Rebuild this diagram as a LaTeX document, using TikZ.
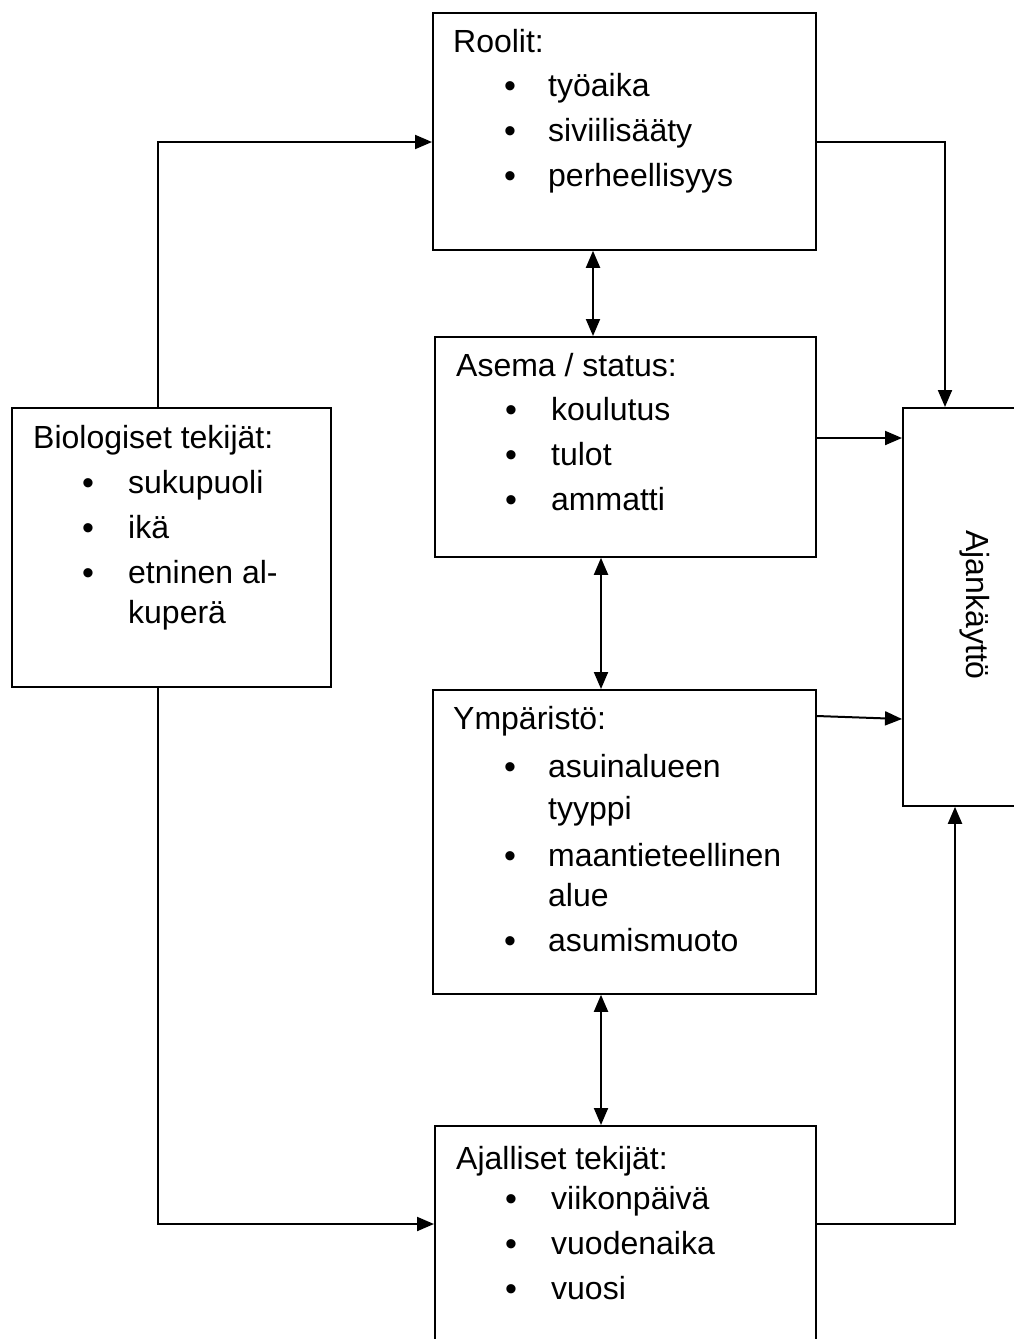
\documentclass[tikz,border=0pt]{standalone}
\usepackage{fontspec}
\setmainfont{Liberation Sans}
\usetikzlibrary{arrows.meta}
\begin{document}
\begin{tikzpicture}[x=1pt,y=-1pt,
  box/.style={draw,line width=1.8pt,inner sep=0pt,anchor=north west},
  arr/.style={line width=2pt,-{Triangle[length=17pt,width=14pt]}},
  darr/.style={line width=2pt,{Triangle[length=17pt,width=14pt]}-{Triangle[length=17pt,width=14pt]}},
  txt/.style={anchor=base west,inner sep=0pt,font=\fontsize{32}{38}\selectfont},
  bul/.style={anchor=base,inner sep=0pt,font=\fontsize{34}{38}\selectfont}]
\useasboundingbox (0,0) rectangle (1013,1339);
\fill[white] (0,0) rectangle (1013,1339);
% boxes
\node[box,minimum width=383pt,minimum height=237pt] (roolit) at (432,12) {};
\node[box,minimum width=381pt,minimum height=220pt] (asema) at (434,336) {};
\node[box,minimum width=319pt,minimum height=279pt] (bio) at (11,407) {};
\node[box,minimum width=383pt,minimum height=304pt] (ymp) at (432,689) {};
\node[box,minimum width=381pt,minimum height=230pt] (ajal) at (434,1125) {};
\node[box,minimum width=130pt,minimum height=398pt] (ajank) at (902,407) {};
% texts: Roolit
\node[txt] (r0) at (453,52) {Roolit:};
\node[bul] (rb1) at (510,97) {•};
\node[txt] (r1) at (548,96) {työaika};
\node[bul] (rb2) at (510,142) {•};
\node[txt] (r2) at (548,141) {siviilisääty};
\node[bul] (rb3) at (510,187) {•};
\node[txt] (r3) at (548,186) {perheellisyys};
% Asema
\node[txt] (a0) at (456,376) {Asema / status:};
\node[bul] (ab1) at (511,421) {•};
\node[txt] (a1) at (551,420) {koulutus};
\node[bul] (ab2) at (511,466) {•};
\node[txt] (a2) at (551,465) {tulot};
\node[bul] (ab3) at (511,511) {•};
\node[txt] (a3) at (551,510) {ammatti};
% Biologiset
\node[txt] (b0) at (33,448) {Biologiset tekijät:};
\node[bul] (bb1) at (88,494) {•};
\node[txt] (b1) at (128,493) {sukupuoli};
\node[bul] (bb2) at (88,539) {•};
\node[txt] (b2) at (128,538) {ikä};
\node[bul] (bb3) at (88,584) {•};
\node[txt] (b3) at (128,583) {etninen al-};
\node[txt] (b4) at (128,623) {kuperä};
% Ympäristö
\node[txt] (y0) at (453,729) {Ympäristö:};
\node[bul] (yb1) at (510,778) {•};
\node[txt] (y1) at (548,777) {asuinalueen};
\node[txt] (y2) at (548,819) {tyyppi};
\node[bul] (yb2) at (510,867) {•};
\node[txt] (y3) at (548,866) {maantieteellinen};
\node[txt] (y4) at (548,906) {alue};
\node[bul] (yb3) at (510,952) {•};
\node[txt] (y5) at (548,951) {asumismuoto};
% Ajalliset
\node[txt] (t0) at (456,1169) {Ajalliset tekijät:};
\node[bul] (tb1) at (511,1210) {•};
\node[txt] (t1) at (551,1209) {viikonpäivä};
\node[bul] (tb2) at (511,1255) {•};
\node[txt] (t2) at (551,1254) {vuodenaika};
\node[bul] (tb3) at (511,1300) {•};
\node[txt] (t3) at (551,1299) {vuosi};
% Ajankäyttö
\node[rotate=-90,inner sep=0pt,font=\fontsize{32}{38}\selectfont] (ak) at (975,605) {Ajankäyttö};
% connectors
\draw[arr] (bio.north -| 158,0) |- (roolit.west |- 0,142);
\draw[arr] (bio.south -| 158,0) |- (ajal.west |- 0,1224);
\draw[arr] (roolit.east |- 0,142) -| (ajank.north -| 945,0);
\draw[arr] (ajal.east |- 0,1224) -| (ajank.south -| 955,0);
\draw[arr] (asema.east |- 0,438) -- (ajank.west |- 0,438);
\draw[arr] (ymp.east |- 0,716) -- (ajank.west |- 0,719);
\draw[darr] (roolit.south -| 593,0) -- (asema.north -| 593,0);
\draw[darr] (asema.south -| 601,0) -- (ymp.north -| 601,0);
\draw[darr] (ymp.south -| 601,0) -- (ajal.north -| 601,0);
\end{tikzpicture}
\end{document}
